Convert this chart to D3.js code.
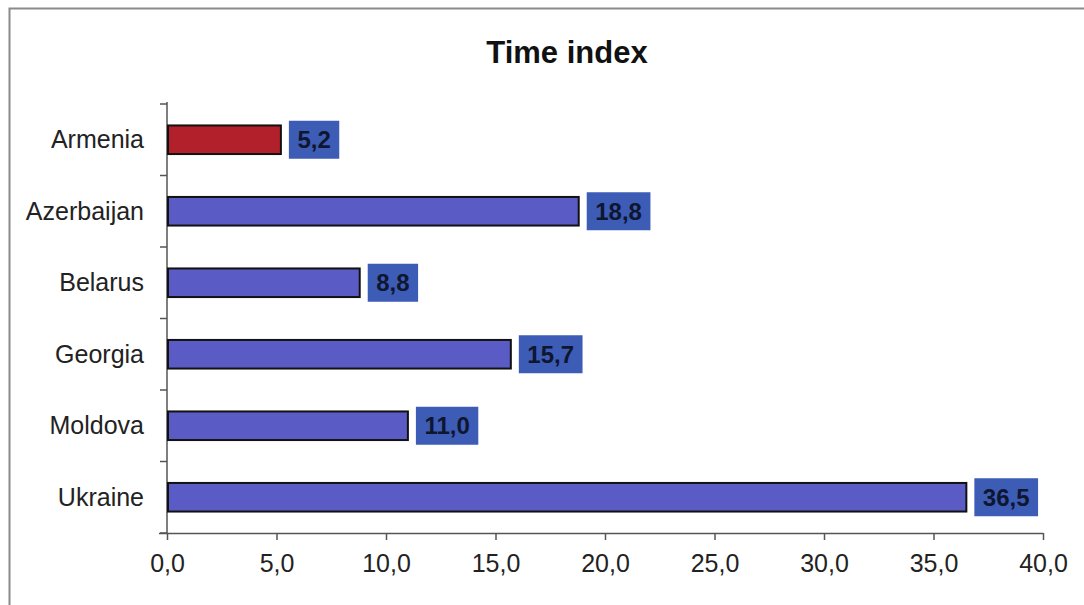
<!DOCTYPE html>
<html>
<head>
<meta charset="utf-8">
<script src="https://cdn.jsdelivr.net/npm/d3@7"></script>
<style>
  html, body { margin: 0; padding: 0; background: #fff; }
  svg { display: block; font-family: "Liberation Sans", Arial, sans-serif; }
</style>
</head>
<body>
<svg id="chart" width="1084" height="605"></svg>
<script>
// Time index by country
const countries = ["Armenia", "Azerbaijan", "Belarus", "Georgia", "Moldova", "Ukraine"];
const values = [5.2, 18.8, 8.8, 15.7, 11.0, 36.5];
const highlight = ["Armenia"];
const xTicks = [0, 5, 10, 15, 20, 25, 30, 35, 40];

const svg = d3.select("#chart");
const W = 1084, H = 605;
const plotLeft = 167, plotRight = 1043, plotTop = 104, plotBottom = 533;

const fmt = v => d3.format(".1f")(v).replace(".", ",");

// outer frame
svg.append("rect")
  .attr("x", 9.5).attr("y", 8.5)
  .attr("width", W + 10).attr("height", H + 10)
  .attr("fill", "#fff").attr("stroke", "#8a8a8a").attr("stroke-width", 2);

// title
svg.append("text")
  .attr("x", 567).attr("y", 63)
  .attr("text-anchor", "middle")
  .attr("font-size", 31).attr("font-weight", "bold")
  .attr("fill", "#111")
  .text("Time index");

const x = d3.scaleLinear().domain([0, 40]).range([plotLeft, plotRight]);
const y = d3.scaleBand().domain(countries).range([plotTop, plotBottom])
  .paddingInner(0.6).paddingOuter(0.3);

// x axis
const xAxis = svg.append("g")
  .attr("transform", `translate(0,${plotBottom})`)
  .call(d3.axisBottom(x).tickValues(xTicks).tickFormat(fmt).tickSize(7).tickSizeOuter(0));
xAxis.select(".domain").attr("stroke", "#555").attr("stroke-width", 1.5)
  .attr("d", `M${plotLeft - 8},0.5H${plotRight}`);
xAxis.selectAll(".tick line").attr("stroke", "#555").attr("stroke-width", 1.5);
xAxis.selectAll(".tick text")
  .attr("font-size", 25).attr("fill", "#222")
  .attr("font-family", "'Liberation Sans', Arial, sans-serif")
  .attr("y", 39).attr("dy", "0");

// y axis: line with ticks at category boundaries
const yAxisG = svg.append("g");
yAxisG.append("line")
  .attr("x1", plotLeft).attr("x2", plotLeft)
  .attr("y1", plotTop - 2).attr("y2", plotBottom)
  .attr("stroke", "#555").attr("stroke-width", 1.5);
const step = y.step();
const boundaries = d3.range(countries.length + 1).map(i => plotTop + i * step);
yAxisG.selectAll("line.tk").data(boundaries).join("line")
  .attr("class", "tk")
  .attr("x1", plotLeft - 7).attr("x2", plotLeft)
  .attr("y1", d => d).attr("y2", d => d)
  .attr("stroke", "#555").attr("stroke-width", 1.5);

// category labels
svg.append("g").selectAll("text").data(countries).join("text")
  .attr("x", 144)
  .attr("y", d => y(d) + y.bandwidth() / 2)
  .attr("dy", "0.33em")
  .attr("text-anchor", "end")
  .attr("font-size", 25).attr("fill", "#222")
  .text(d => d);

const data = countries.map((c, i) => ({ c, v: values[i] }));

// bars
svg.append("g").selectAll("rect").data(data).join("rect")
  .attr("x", x(0) + 1)
  .attr("y", d => y(d.c))
  .attr("width", d => x(d.v) - x(0) - 1)
  .attr("height", y.bandwidth())
  .attr("fill", d => highlight.includes(d.c) ? "#b2202c" : "#5a5bc4")
  .attr("stroke", "#111").attr("stroke-width", 2);

// value labels in boxes
const lab = svg.append("g").selectAll("g").data(data).join("g")
  .attr("transform", d => `translate(${x(d.v) + 8},${y(d.c) + y.bandwidth() / 2})`);
lab.append("text")
  .attr("class", "val")
  .attr("font-size", 24).attr("font-weight", "bold")
  .attr("fill", "#0e1630")
  .attr("dy", "0.36em")
  .text(d => fmt(d.v));
lab.each(function () {
  const g = d3.select(this);
  const t = g.select("text");
  const w = t.node().getComputedTextLength();
  const pad = 8.5;
  g.insert("rect", "text")
    .attr("x", 0).attr("y", -19)
    .attr("width", w + pad * 2).attr("height", 38)
    .attr("fill", "#3d5cb6");
  t.attr("x", pad);
});
</script>
</body>
</html>
